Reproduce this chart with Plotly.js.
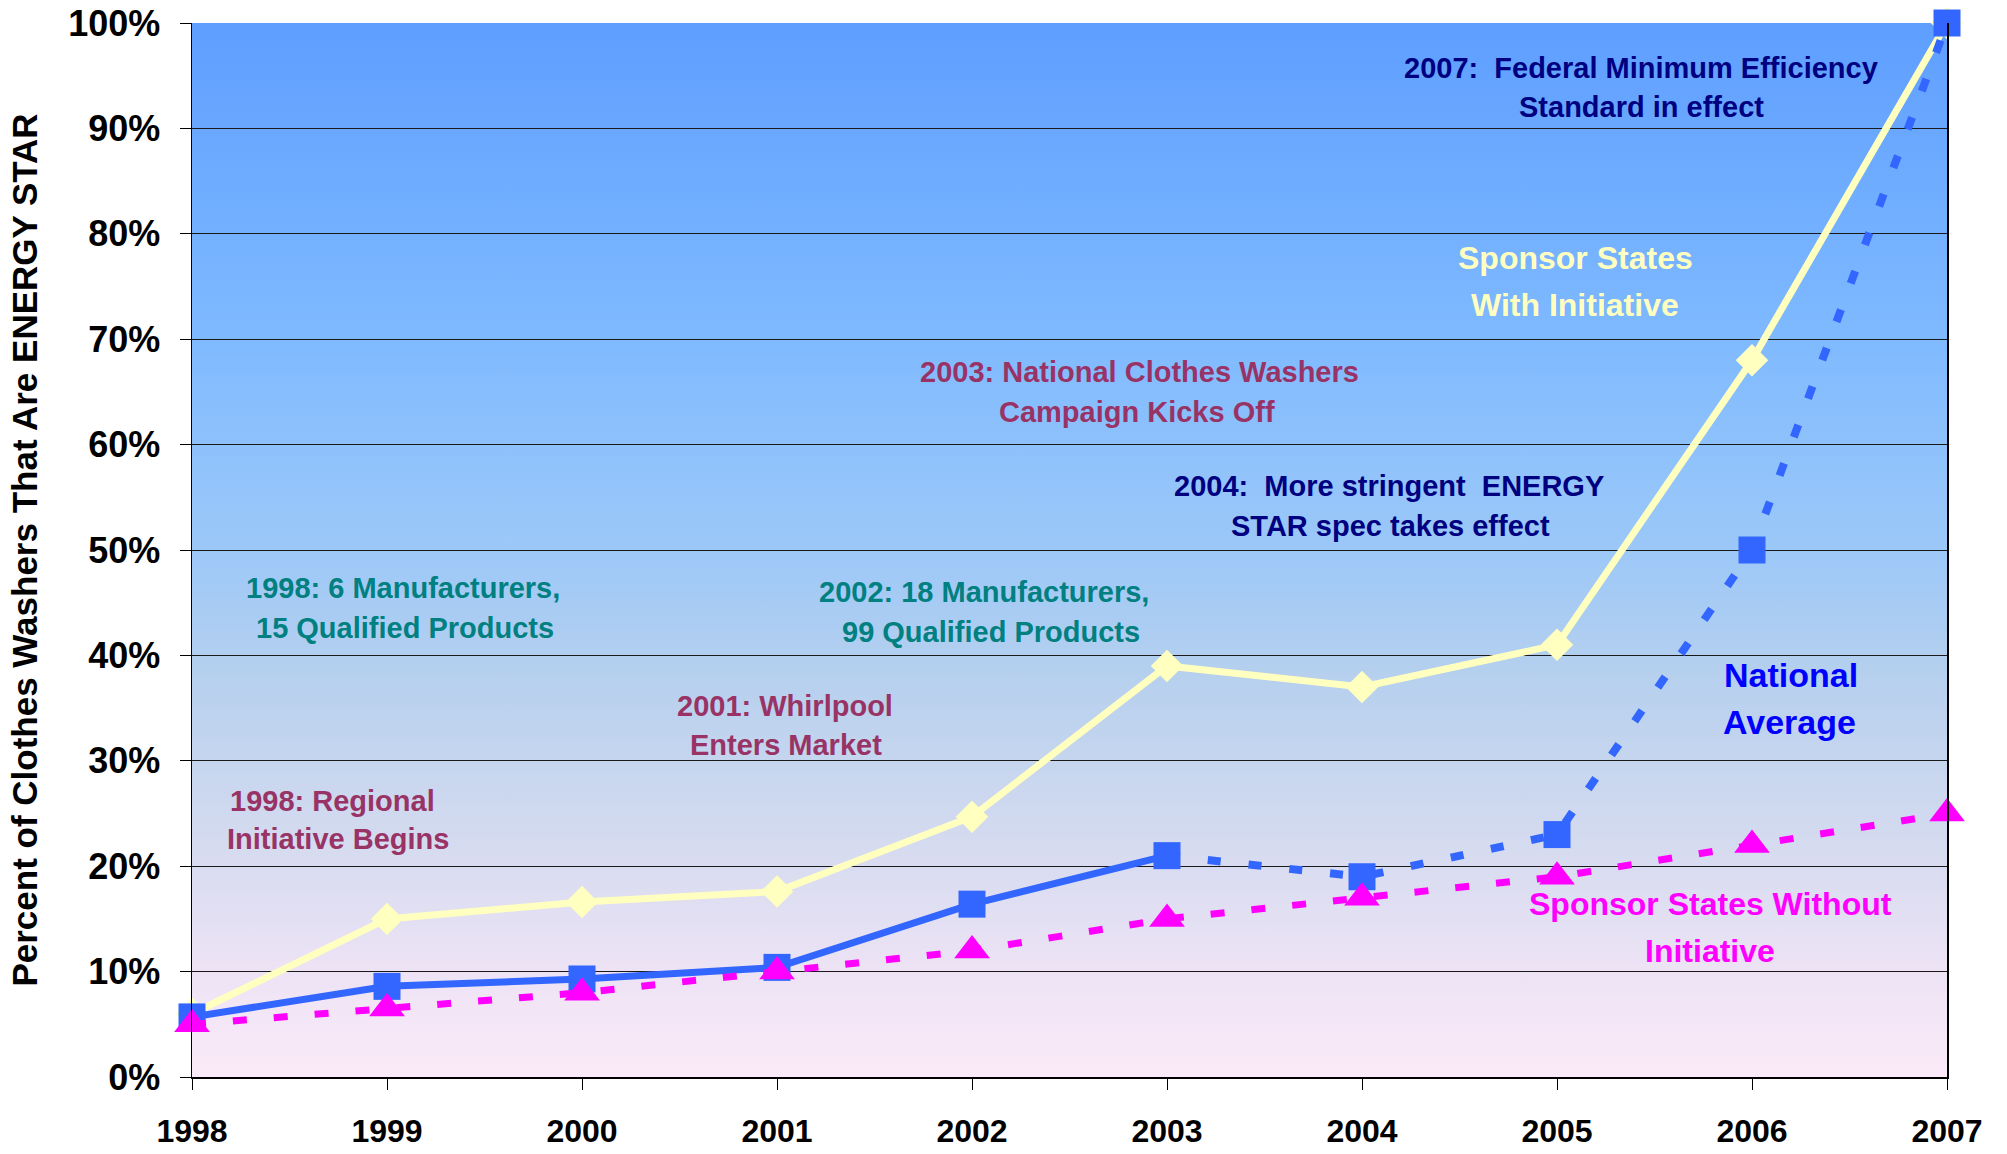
<!DOCTYPE html>
<html>
<head>
<meta charset="utf-8">
<script src="https://cdn.plot.ly/plotly-3.0.1.min.js"></script>
<style>
  html, body { margin: 0; padding: 0; background: #ffffff; }
  #chart { width: 2007px; height: 1154px; }
</style>
</head>
<body>
<div id="chart"></div>
<script>
// ---- Data ----
const years = [1998, 1999, 2000, 2001, 2002, 2003, 2004, 2005, 2006, 2007];
const sponsorWithInitiative = [6, 15, 16.6, 17.6, 24.7, 39, 37, 41, 68, 100];
const nationalAverage = [5.7, 8.6, 9.3, 10.4, 16.4, 21, 19, 23, 50, 100];
const sponsorWithoutInitiative = [5, 6.5, 8, 10, 12, 15, 17, 19, 22, 25];

const yTickVals = [0, 10, 20, 30, 40, 50, 60, 70, 80, 90, 100];
const yTickText = ['0%', '10%', '20%', '30%', '40%', '50%', '60%', '70%', '80%', '90%', '100%'];
const xTickText = ['1998', '1999', '2000', '2001', '2002', '2003', '2004', '2005', '2006', '2007'];

const yTitle = 'Percent of Clothes Washers That Are ENERGY STAR';

const noteTexts = [
  '2007:  Federal Minimum Efficiency', 'Standard in effect',
  'Sponsor States', 'With Initiative',
  '2003: National Clothes Washers', 'Campaign Kicks Off',
  '2004:  More stringent  ENERGY', 'STAR spec takes effect',
  '1998: 6 Manufacturers,', '15 Qualified Products',
  '2002: 18 Manufacturers,', '99 Qualified Products',
  '2001: Whirlpool', 'Enters Market',
  '1998: Regional', 'Initiative Begins',
  'National', 'Average',
  'Sponsor States Without', 'Initiative'
];

// ---- Styling / layout ----
const FONT = 'Liberation Sans, Arial, Helvetica, sans-serif';
const W = 2007, H = 1154;
const M = { l: 192, r: 60, t: 23, b: 77 };
const plotW = W - M.l - M.r, plotH = H - M.t - M.b;

const navy = '#000080', teal = '#008080', maroon = '#993366',
      yellowTxt = '#FFFFC0', blueTxt = '#0000FF', magenta = '#FF00FF';

// annotation placement in page pixels (center x, center y), color, size
const notePlace = [
  [1641, 67.5, navy, 29], [1641, 107, navy, 29],
  [1575, 258.5, yellowTxt, 32], [1575, 305, yellowTxt, 32],
  [1139, 372, maroon, 29], [1137, 412, maroon, 29],
  [1389, 485.5, navy, 29], [1390, 526, navy, 29],
  [403, 587.5, teal, 29], [405, 627.5, teal, 29],
  [984, 592, teal, 29], [991, 632, teal, 29],
  [785, 706, maroon, 29], [786, 745, maroon, 29],
  [332, 801, maroon, 29], [338, 839, maroon, 29],
  [1791, 674.5, blueTxt, 34], [1789, 721.5, blueTxt, 34],
  [1710, 903.5, magenta, 32], [1710, 951, magenta, 32]
];

const annotations = noteTexts.map((t, i) => {
  const p = notePlace[i];
  return {
    text: t,
    xref: 'paper', yref: 'paper',
    x: (p[0] - M.l) / plotW,
    y: (H - M.b - p[1]) / plotH,
    xanchor: 'center', yanchor: 'middle',
    showarrow: false,
    font: { family: FONT, size: p[3], color: p[2], weight: 'bold' }
  };
});

// gradient background for the plot area
const gradSvg =
  '<svg xmlns="http://www.w3.org/2000/svg" width="100" height="100" preserveAspectRatio="none">' +
  '<defs><linearGradient id="g" x1="0" y1="0" x2="0" y2="1">' +
  '<stop offset="0" stop-color="#5E9EFF"/>' +
  '<stop offset="0.3" stop-color="#7FBAFF"/>' +
  '<stop offset="0.5" stop-color="#9CC8F8"/>' +
  '<stop offset="0.62" stop-color="#B6D0EE"/>' +
  '<stop offset="0.77" stop-color="#D3DAEF"/>' +
  '<stop offset="0.9" stop-color="#EDE3F5"/>' +
  '<stop offset="1" stop-color="#FBEAF8"/>' +
  '</linearGradient></defs>' +
  '<rect x="0" y="0" width="100" height="100" fill="url(#g)"/></svg>';
const gradUri = 'data:image/svg+xml;charset=utf-8,' + encodeURIComponent(gradSvg);

const traces = [
  {
    name: 'Sponsor States With Initiative',
    x: years, y: sponsorWithInitiative,
    mode: 'lines+markers',
    line: { color: '#FFFFC0', width: 7 },
    marker: { symbol: 'diamond', size: 25, color: '#FFFFC0' },
    cliponaxis: false, showlegend: false, hoverinfo: 'x+y'
  },
  {
    name: 'National Average',
    x: years.slice(0, 6), y: nationalAverage.slice(0, 6),
    mode: 'lines',
    line: { color: '#3366FF', width: 7 },
    cliponaxis: false, showlegend: false, hoverinfo: 'skip'
  },
  {
    name: 'National Average (dotted)',
    x: years.slice(5), y: nationalAverage.slice(5),
    mode: 'lines',
    line: { color: '#3366FF', width: 8, dash: '13px,28px' },
    cliponaxis: false, showlegend: false, hoverinfo: 'skip'
  },
  {
    name: 'National Average',
    x: years, y: nationalAverage,
    mode: 'markers',
    marker: { symbol: 'square', size: 27, color: '#3366FF' },
    cliponaxis: false, showlegend: false, hoverinfo: 'x+y'
  },
  {
    name: 'Sponsor States Without Initiative',
    x: years, y: sponsorWithoutInitiative,
    mode: 'lines+markers',
    line: { color: '#FF00FF', width: 7, dash: '14px,27px' },
    marker: { symbol: 'triangle-up', size: 31, color: '#FF00FF' },
    cliponaxis: false, showlegend: false, hoverinfo: 'x+y'
  }
];

const layout = {
  width: W, height: H,
  margin: M,
  paper_bgcolor: '#FFFFFF',
  plot_bgcolor: 'rgba(0,0,0,0)',
  showlegend: false,
  font: { family: FONT, color: '#000000' },
  images: [{
    source: gradUri, xref: 'paper', yref: 'paper',
    x: 0, y: 1, sizex: 1, sizey: 1, xanchor: 'left', yanchor: 'top',
    sizing: 'stretch', layer: 'below'
  }],
  xaxis: {
    range: [1998, 2007],
    tickmode: 'array', tickvals: years, ticktext: xTickText,
    ticks: 'outside', ticklen: 11, tickwidth: 1, tickcolor: '#000',
    ticklabelstandoff: 14,
    tickfont: { family: FONT, size: 32, color: '#000', weight: 'bold' },
    showgrid: false, zeroline: false,
    showline: true, linecolor: '#000', linewidth: 1.5, mirror: false
  },
  xaxis2: {
    range: [1998, 2007], overlaying: 'x', anchor: 'y', side: 'bottom',
    tickmode: 'array', tickvals: years,
    ticks: 'inside', ticklen: 12, tickwidth: 1, tickcolor: '#000',
    showticklabels: false, showgrid: false, zeroline: false, showline: false
  },
  yaxis: {
    range: [0, 100],
    tickmode: 'array', tickvals: yTickVals, ticktext: yTickText,
    ticks: 'outside', ticklen: 11, tickwidth: 1, tickcolor: '#000',
    ticklabelstandoff: 12,
    tickfont: { family: FONT, size: 36, color: '#000', weight: 'bold' },
    showgrid: true, gridcolor: '#1a1a1a', gridwidth: 1,
    zeroline: false,
    showline: true, linecolor: '#000', linewidth: 1.5, mirror: true,
    title: {
      text: yTitle,
      font: { family: FONT, size: 35, color: '#000', weight: 'bold' },
      standoff: 20
    }
  },
  annotations: annotations
};

Plotly.newPlot('chart', traces, layout, { displayModeBar: false, staticPlot: true });
</script>
</body>
</html>
